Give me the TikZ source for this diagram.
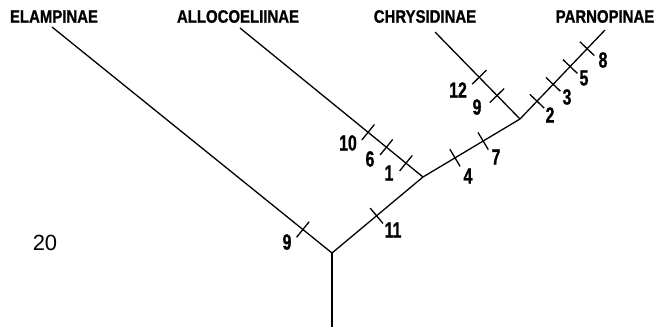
\documentclass[tikz,border=0pt]{standalone}
\usepackage{fontspec}
\newfontfamily\taxfont[FakeStretch=0.83,FakeBold=1]{Liberation Sans Bold}
\newfontfamily\numfont[FakeStretch=0.72,FakeBold=1]{Liberation Sans Bold}
\setmainfont{Liberation Sans}
\usetikzlibrary{calc}
\begin{document}
\begin{tikzpicture}[x=1pt,y=-1pt,line width=1.3pt,
  taxon/.style={font=\taxfont\fontsize{18}{18}\selectfont,inner sep=0pt},
  num/.style={font=\numfont\fontsize{22}{22}\selectfont,inner sep=0pt},
  branch/.style={line cap=butt}]
\useasboundingbox (0,0) rectangle (656,330);
% taxa labels
\node[taxon] (tE) at (54,16.5) {ELAMPINAE};
\node[taxon] (tA) at (238,16.5) {ALLOCOELIINAE};
\node[taxon] (tC) at (425,16.5) {CHRYSIDINAE};
\node[taxon] (tP) at (605,16.5) {PARNOPINAE};
\node[font=\fontsize{22}{22}\selectfont,inner sep=0pt] (fig) at (45,243) {20};
% tree coordinates
\coordinate (E) at (52,27);
\coordinate (Al) at (240,28);
\coordinate (Ch) at (435,32);
\coordinate (Pa) at (605,30);
\coordinate (R) at (332,253);
\coordinate (B) at (332,327);
\coordinate (A) at (423,177);
\coordinate (C) at (520,119);
% branches
\draw[branch] (B) -- (R);
\draw[branch] (E) -- (R);
\draw[branch] (R) -- (A);
\draw[branch] (Al) -- (A);
\draw[branch] (A) -- (C);
\draw[branch] (Ch) -- (C);
\draw[branch] (C) -- (Pa);
% tick helper
\newcommand{\tick}[4]{%
  \path (#1) -- (#2) coordinate[pos=#3] (#4);
  \draw ($(#4)!10pt!90:(#2)$) -- ($(#4)!10pt!-90:(#2)$);}
\tick{E}{R}{0.896}{k9a}
\tick{R}{A}{0.49}{k11}
\tick{Al}{A}{0.70}{k10}
\tick{Al}{A}{0.80}{k6}
\tick{Al}{A}{0.907}{k1}
\tick{A}{C}{0.33}{k4}
\tick{A}{C}{0.62}{k7}
\tick{Ch}{C}{0.52}{k12}
\tick{Ch}{C}{0.73}{k9b}
\tick{C}{Pa}{0.2}{k2}
\tick{C}{Pa}{0.39}{k3}
\tick{C}{Pa}{0.59}{k5}
\tick{C}{Pa}{0.79}{k8}
% numbers
\node[num] (n9a) at (287,242) {9};
\node[num] (n11) at (393,230) {11};
\node[num] (n10) at (348,143) {10};
\node[num] (n6) at (370,159) {6};
\node[num] (n1) at (389,173) {1};
\node[num] (n4) at (468,176) {4};
\node[num] (n7) at (496,157) {7};
\node[num] (n12) at (458,90) {12};
\node[num] (n9b) at (477,107) {9};
\node[num] (n2) at (550,115) {2};
\node[num] (n3) at (567,97) {3};
\node[num] (n5) at (584,78) {5};
\node[num] (n8) at (603,60) {8};
\end{tikzpicture}
\end{document}
